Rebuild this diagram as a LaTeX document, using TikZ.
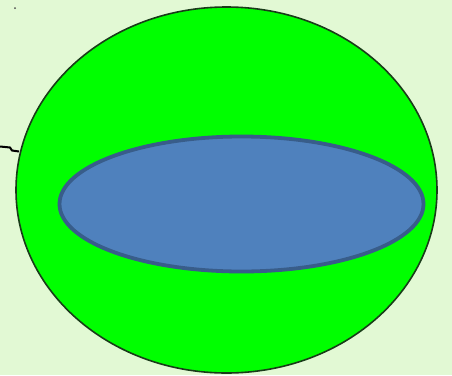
\documentclass[tikz,border=0pt]{standalone}
\definecolor{bgc}{RGB}{226,249,212}
\definecolor{outer}{RGB}{0,255,0}
\definecolor{outerline}{RGB}{25,60,25}
\definecolor{inner}{RGB}{79,129,189}
\definecolor{innerline}{RGB}{56,93,138}
\tikzset{
  outerell/.style={draw=outerline, fill=outer, line width=1.6pt},
  innerell/.style={draw=innerline, fill=inner, line width=3.8pt},
}
\begin{document}
\begin{tikzpicture}[x=1pt,y=-1pt]
\fill[bgc] (0,0) rectangle (452,375);
\useasboundingbox (0,0) rectangle (452,375);
\path[outerell] (226.5,190) ellipse [x radius=210.5, y radius=183];
\path[innerell] (241.5,204) ellipse [x radius=182, y radius=67.5];
\coordinate (lineA) at (0,146.5);
\coordinate (lineB) at (19,151.5);
\draw[black, line width=2pt] (lineA) -- (10,147.5) -- (12,150.5) -- (lineB);
\fill[black!70] (15,8) circle (1);
\end{tikzpicture}
\end{document}
